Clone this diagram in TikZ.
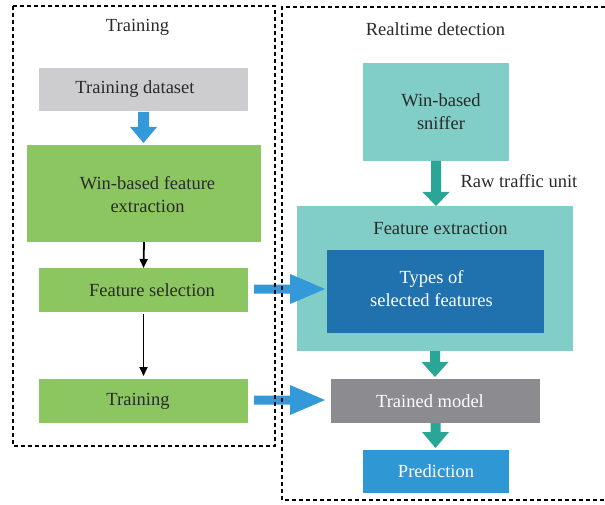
\documentclass[tikz,border=0pt]{standalone}
\usepackage{fontspec}
\setmainfont{Liberation Serif}
\usetikzlibrary{calc,arrows.meta}
\definecolor{grayb}{HTML}{CDCDCF}
\definecolor{greenb}{HTML}{8CC660}
\definecolor{tealb}{HTML}{80CEC7}
\definecolor{darkb}{HTML}{1F72AD}
\definecolor{modelb}{HTML}{8C8B8F}
\definecolor{predb}{HTML}{3097D5}
\definecolor{bluearr}{HTML}{3399D8}
\definecolor{tealarr}{HTML}{2AA696}
\definecolor{txt}{HTML}{2A2A2A}
\newcommand\vblk[6]{%
\fill[#1] let \p1=(#2), \p2=(#3) in
 (\x1-#4pt,\y1) -- (\x1+#4pt,\y1) -- (\x1+#4pt,\y2+#6pt) -- (\x1+#5pt,\y2+#6pt)
 -- (\x1,\y2) -- (\x1-#5pt,\y2+#6pt) -- (\x1-#4pt,\y2+#6pt) -- cycle;}
\newcommand\hblk[6]{%
\fill[#1] let \p1=(#2), \p2=(#3) in
 (\x1,\y1+#4pt) -- (\x2-#6pt,\y1+#4pt) -- (\x2-#6pt,\y1+#5pt) -- (\x2,\y1)
 -- (\x2-#6pt,\y1-#5pt) -- (\x2-#6pt,\y1-#4pt) -- (\x1,\y1-#4pt) -- cycle;}
\begin{document}
\begin{tikzpicture}[x=1pt,y=-1pt,
  font=\fontsize{18.5}{23}\selectfont,
  box/.style={draw=none, inner sep=0pt, outer sep=0pt},
  every label/.style={text=txt, align=center, inner sep=0pt},
  dashbox/.style={black, line width=2pt, dash pattern=on 4pt off 3pt},
  thinarr/.style={black, line width=1.8pt, -{Triangle[length=9pt,width=8pt]}}]
\useasboundingbox (0,0) rectangle (605,505);

% titles
\node[text=txt] (ttl) at (137.5,27) {Training};
\node[text=txt] (rtl) at (435.5,29) {Realtime detection};

% left column
\node[box, fill=grayb, minimum width=209pt, minimum height=43pt,
  label={[xshift=-8.5pt]center:Training dataset}] (ds) at (143.5,89.5) {};
\node[box, fill=greenb, minimum width=234pt, minimum height=97pt,
  label={[xshift=3.5pt,yshift=-1pt]center:Win-based feature\\extraction}] (fe) at (144,193.5) {};
\node[box, fill=greenb, minimum width=209pt, minimum height=44pt,
  label={[xshift=8.5pt]center:Feature selection}] (fs) at (143.5,290) {};
\node[box, fill=greenb, minimum width=209pt, minimum height=44pt,
  label={[xshift=-5.5pt]center:Training}] (tr) at (143.5,401) {};

% right column
\node[box, fill=tealb, minimum width=146pt, minimum height=98pt,
  label={[xshift=5pt]center:Win-based\\sniffer}] (sn) at (436,112) {};
\node[box, fill=tealb, minimum width=276pt, minimum height=145pt] (fx) at (435,278.5) {};
\node[text=txt] (fxt) at (440.5,228) {Feature extraction};
\node[box, fill=darkb, minimum width=217pt, minimum height=83pt,
  label={[xshift=-4pt,yshift=2.5pt,text=white]center:Types of\\selected features}] (ts) at (435.5,291.5) {};
\node[box, fill=modelb, minimum width=209pt, minimum height=44pt,
  label={[xshift=-5.5pt,text=white]center:Trained model}] (tm) at (435.5,401) {};
\node[box, fill=predb, minimum width=146pt, minimum height=43pt,
  label={[text=white]center:Prediction}] (pr) at (436,471.5) {};

% connectors
\vblk{bluearr}{$(ds.south)+(0,1)$}{$(fe.north)+(0,-2)$}{5.5}{13.5}{16}
\draw[thinarr] (fe.south) -- (fs.north);
\draw[thinarr] ($(fs.south)+(0,2)$) -- ($(tr.north)+(0,-3)$);

\vblk{tealarr}{sn.south}{fx.north}{5}{13.5}{14}
\node[text=txt, anchor=west] (raw) at (457,181) {Raw traffic unit};
\vblk{tealarr}{fx.south}{$(tm.north)+(0,-2)$}{5}{13.5}{15}
\vblk{tealarr}{tm.south}{$(pr.north)+(0,-2)$}{5}{13.5}{16}

\hblk{bluearr}{$(fs.east)+(6,-1)$}{$(ts.west)+(-2,0)$}{4.5}{15}{35}
\hblk{bluearr}{$(tr.east)+(6,-1)$}{$(tm.west)+(-6,0)$}{4.5}{15}{35}

% dashed frames
\draw[dashbox] (13,6) rectangle (275,446);
\draw[dashbox] (605,7) -- (282,7) -- (282,500) -- (605,500);
\end{tikzpicture}
\end{document}
